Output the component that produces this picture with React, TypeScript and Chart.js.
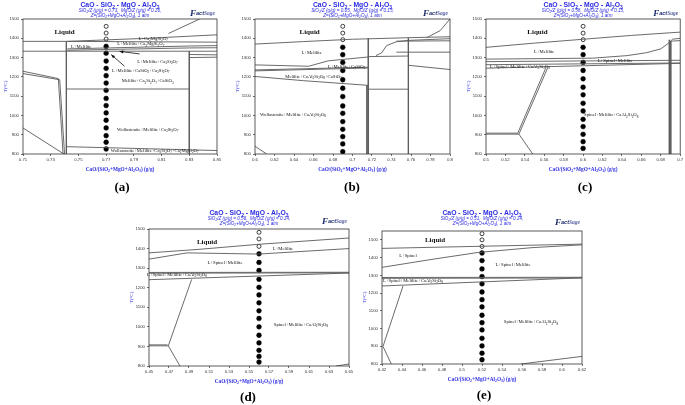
import React, { useEffect, useRef } from "react";
import { Chart, registerables } from "chart.js";

Chart.register(...registerables);

type Pt = [number, number];
type Label = [number, number, string];

const Y_TICKS = [800, 900, 1000, 1100, 1200, 1300, 1400, 1500];

// ---------- (a) ----------
const A_X_TICKS = [0.71, 0.73, 0.75, 0.77, 0.79, 0.81, 0.83, 0.85];
const A_X_LABELS = ["0.71", "0.73", "0.75", "0.77", "0.79", "0.81", "0.83", "0.85"];
const A_DOT_X = 0.77;
const A_OPEN_T = [1462, 1427, 1396];
const A_FILLED_T = [1358, 1323, 1282, 1244, 1206, 1168, 1130, 1088, 1051, 1013, 975, 935, 895, 861, 826];
const A_LINES: Pt[][] = [
  [[0.71, 1384], [0.742, 1384], [0.85, 1380]],
  [[0.742, 1384], [0.8, 1400], [0.85, 1418]],
  [[0.815, 1425], [0.8375, 1500]],
  [[0.71, 1333], [0.85, 1333]],
  [[0.742, 1345], [0.83, 1360], [0.85, 1362]],
  [[0.742, 1338], [0.83, 1350], [0.85, 1351]],
  [[0.83, 1316], [0.85, 1314]],
  [[0.83, 1300], [0.85, 1302]],
  [[0.7413, 1384], [0.7413, 800]],
  [[0.83, 1333], [0.83, 800]],
  [[0.7413, 1137], [0.83, 1137]],
  [[0.7413, 838], [0.85, 818]],
  [[0.71, 1229], [0.7355, 1191], [0.7389, 800]],
  [[0.71, 1217], [0.7365, 1185], [0.74, 800]],
  [[0.71, 935], [0.7395, 800]],
];
const A_LABELS: Label[] = [
  [0.74, 1436, "Liquid"],
  [0.752, 1358, "L+Melilite"],
  [0.804, 1398, "L+Ca_2MgSi_2O_7"],
  [0.795, 1372, "L+Melilite+Ca_2MgSi_2O_7"],
  [0.807, 1280, "L+Melilite+Ca_3Si_2O_7"],
  [0.795, 1234, "L+Melilite+CaSiO_3+Ca_3Si_2O_7"],
  [0.8, 1180, "Melilite+Ca_3Si_2O_7+CaSiO_3"],
  [0.8, 930, "Wollastonite+Melilite+Ca_3Si_2O_7"],
  [0.805, 819, "Wollastonite+Melilite+Ca_3Si_2O_7+Ca_2MgSi_2O_7"],
];
const A_ARROWS: [Pt, Pt][] = [
  [[0.7833, 1255], [0.7737, 1315]],
  [[0.7942, 1319], [0.7797, 1332]],
];

// ---------- (b) ----------
const B_X_TICKS = [0.6, 0.62, 0.64, 0.66, 0.68, 0.7, 0.72, 0.74, 0.76, 0.78, 0.8];
const B_X_LABELS = ["0.6", "0.62", "0.64", "0.66", "0.68", "0.7", "0.72", "0.74", "0.76", "0.78", "0.8"];
const B_DOT_X = 0.69;
const B_OPEN_T = [1462, 1427, 1393];
const B_FILLED_T = [1353, 1315, 1275, 1233, 1185, 1141, 1098, 1049, 1011, 968, 928, 890, 852, 812];
const B_LINES: Pt[][] = [
  [[0.6, 1370], [0.65, 1383], [0.7, 1395], [0.757, 1403], [0.8, 1408]],
  [[0.776, 1403], [0.79, 1440], [0.8, 1500]],
  [[0.757, 1389], [0.8, 1398]],
  [[0.745, 1385], [0.8, 1387]],
  [[0.6, 1262], [0.655, 1255], [0.675, 1283], [0.716, 1303]],
  [[0.6, 1236], [0.716, 1250]],
  [[0.6, 1231], [0.716, 1246]],
  [[0.6, 1202], [0.65, 1180], [0.716, 1156]],
  [[0.7162, 1400], [0.7162, 800]],
  [[0.7148, 1156], [0.7148, 800]],
  [[0.7573, 1403], [0.7573, 800]],
  [[0.7162, 1136], [0.7573, 1136]],
  [[0.7162, 1305], [0.7573, 1308]],
  [[0.724, 1310], [0.73, 1325], [0.735, 1362], [0.745, 1382], [0.757, 1389]],
  [[0.745, 1328], [0.8, 1328]],
  [[0.7573, 1260], [0.8, 1238]],
  [[0.6, 840], [0.612, 800]],
];
const B_LABELS: Label[] = [
  [0.656, 1436, "Liquid"],
  [0.658, 1327, "L+Melilite"],
  [0.694, 1254, "L+Melilite+CaSiO_3"],
  [0.66, 1205, "Melilite+CaAl_2Si_2O_8+CaSiO_3"],
  [0.639, 1006, "Wollastonite+Melilite+CaAl_2Si_2O_8"],
];

// ---------- (c) ----------
const C_X_TICKS = [0.5, 0.52, 0.54, 0.56, 0.58, 0.6, 0.62, 0.64, 0.66, 0.68, 0.7];
const C_X_LABELS = ["0.5", "0.52", "0.54", "0.56", "0.58", "0.6", "0.62", "0.64", "0.66", "0.68", "0.7"];
const C_DOT_X = 0.6;
const C_OPEN_T = [1462, 1427, 1393];
const C_FILLED_T = [1353, 1315, 1275, 1233, 1190, 1146, 1107, 1063, 1023, 980, 942, 902, 864, 829];
const C_LINES: Pt[][] = [
  [[0.5, 1353], [0.55, 1375], [0.6, 1395], [0.65, 1415], [0.7, 1432]],
  [[0.5, 1292], [0.61, 1297], [0.645, 1310], [0.665, 1325], [0.68, 1345], [0.688, 1375], [0.692, 1395], [0.7, 1400]],
  [[0.5, 1279], [0.7, 1286]],
  [[0.5, 1263], [0.7, 1272]],
  [[0.5, 1245], [0.7, 1270]],
  [[0.6888, 1392], [0.6888, 800]],
  [[0.6903, 1385], [0.6903, 800]],
  [[0.6903, 1385], [0.7, 1388]],
  [[0.5634, 1245], [0.5339, 903], [0.5481, 800]],
  [[0.5615, 1245], [0.5325, 906]],
  [[0.5, 903], [0.5339, 903]],
  [[0.5, 908], [0.5325, 908]],
];
const C_LABELS: Label[] = [
  [0.553, 1436, "Liquid"],
  [0.56, 1332, "L+Melilite"],
  [0.633, 1283, "L+Spinel+Melilite"],
  [0.535, 1254, "L+Spinel+Melilite+CaAl_2Si_2O_8"],
  [0.629, 1003, "Spinel+Melilite+CaAl_2Si_2O_8"],
];

// ---------- (d) ----------
const D_X_TICKS = [0.45, 0.47, 0.49, 0.51, 0.53, 0.55, 0.57, 0.59, 0.61, 0.63, 0.65];
const D_X_LABELS = ["0.45", "0.47", "0.49", "0.51", "0.53", "0.55", "0.57", "0.59", "0.61", "0.63", "0.65"];
const D_DOT_X = 0.56;
const D_OPEN_T = [1483, 1449, 1411];
const D_FILLED_T = [1373, 1329, 1288, 1243, 1202, 1163, 1123, 1082, 1043, 1000, 957, 918, 880, 849, 820];
const D_LINES: Pt[][] = [
  [[0.45, 1378], [0.5, 1396], [0.56, 1422], [0.65, 1454]],
  [[0.45, 1346], [0.488, 1378], [0.56, 1372], [0.65, 1400]],
  [[0.45, 1278], [0.65, 1279]],
  [[0.45, 1274], [0.65, 1276]],
  [[0.45, 1241], [0.65, 1275]],
  [[0.4926, 1242], [0.4693, 903], [0.481, 800]],
  [[0.45, 903], [0.4693, 903]],
  [[0.45, 908], [0.4685, 908]],
  [[0.637, 800], [0.65, 810]],
];
const D_LABELS: Label[] = [
  [0.508, 1437, "Liquid"],
  [0.584, 1402, "L+Melilite"],
  [0.526, 1330, "L+Spinel+Melilite"],
  [0.478, 1267, "L+Spinel+Melilite+CaAl_2Si_2O_8"],
  [0.602, 1014, "Spinel+Melilite+CaAl_2Si_2O_8"],
];

// ---------- (e) ----------
const E_X_TICKS = [0.42, 0.44, 0.46, 0.48, 0.5, 0.52, 0.54, 0.56, 0.58, 0.6, 0.62];
const E_X_LABELS = ["0.42", "0.44", "0.46", "0.48", "0.5", "0.52", "0.54", "0.56", "0.58", "0.6", "0.62"];
const E_DOT_X = 0.52;
const E_OPEN_T = [1535, 1500, 1463];
const E_FILLED_T = [1426, 1383, 1336, 1293, 1252, 1206, 1163, 1122, 1075, 1033, 992, 945, 902, 861, 824];
const E_LINES: Pt[][] = [
  [[0.42, 1452], [0.62, 1476]],
  [[0.42, 1345], [0.47, 1390], [0.516, 1429], [0.57, 1456], [0.62, 1472]],
  [[0.42, 1288], [0.62, 1289]],
  [[0.42, 1283], [0.62, 1285]],
  [[0.42, 1240], [0.62, 1286]],
  [[0.441, 1240], [0.421, 899], [0.4293, 800]],
  [[0.559, 800], [0.62, 843]],
];
const E_LABELS: Label[] = [
  [0.473, 1500, "Liquid"],
  [0.446, 1411, "L+Spinel"],
  [0.551, 1364, "L+Spinel+Melilite"],
  [0.451, 1271, "L+Spinel+Melilite+CaAl_2Si_2O_8"],
  [0.569, 1038, "Spinel+Melilite+CaAl_2Si_2O_8"],
];

const SIO2_Z = ["0.73", "0.65", "0.58", "0.56", "0.51"];
const MGO_Z = ["0.16", "0.15", "0.15", "0.14", "0.14"];
const LETTERS = ["(a)", "(b)", "(c)", "(d)", "(e)"];

const BLUE = "#2a2ae0";
const LINE_COLOR = "#5a5a5a";
const SERIF = "'Liberation Serif', 'Times New Roman', serif";
const SANS = "'Liberation Sans', Arial, sans-serif";

interface PanelCfg {
  idx: number;
  area: { L: number; T: number; R: number; B: number };
  xMin: number; xMax: number; yMin: number; yMax: number;
  xTicks: number[]; xLabels: string[];
  dotX: number; openT: number[]; filledT: number[];
  lines: Pt[][]; labels: Label[]; arrows: [Pt, Pt][];
  titleY: number; logoY: number; letterPos: [number, number];
}

const PANELS: PanelCfg[] = [
  { idx: 0, area: { L: 23, T: 19, R: 217, B: 154 }, xMin: 0.71, xMax: 0.85, yMin: 800, yMax: 1500,
    xTicks: A_X_TICKS, xLabels: A_X_LABELS, dotX: A_DOT_X, openT: A_OPEN_T, filledT: A_FILLED_T,
    lines: A_LINES, labels: A_LABELS, arrows: A_ARROWS, titleY: 5, logoY: 13, letterPos: [122, 186] },
  { idx: 1, area: { L: 255, T: 19, R: 450, B: 154 }, xMin: 0.6, xMax: 0.8, yMin: 800, yMax: 1500,
    xTicks: B_X_TICKS, xLabels: B_X_LABELS, dotX: B_DOT_X, openT: B_OPEN_T, filledT: B_FILLED_T,
    lines: B_LINES, labels: B_LABELS, arrows: [], titleY: 5, logoY: 13, letterPos: [352, 186] },
  { idx: 2, area: { L: 486, T: 19, R: 683, B: 154 }, xMin: 0.5, xMax: 0.7, yMin: 800, yMax: 1500,
    xTicks: C_X_TICKS, xLabels: C_X_LABELS, dotX: C_DOT_X, openT: C_OPEN_T, filledT: C_FILLED_T,
    lines: C_LINES, labels: C_LABELS, arrows: [], titleY: 5, logoY: 13, letterPos: [585, 186] },
  { idx: 3, area: { L: 149, T: 229, R: 349, B: 366 }, xMin: 0.45, xMax: 0.65, yMin: 800, yMax: 1500,
    xTicks: D_X_TICKS, xLabels: D_X_LABELS, dotX: D_DOT_X, openT: D_OPEN_T, filledT: D_FILLED_T,
    lines: D_LINES, labels: D_LABELS, arrows: [], titleY: 213, logoY: 221, letterPos: [248, 396] },
  { idx: 4, area: { L: 382, T: 231, R: 582, B: 364 }, xMin: 0.42, xMax: 0.62, yMin: 800, yMax: 1550,
    xTicks: E_X_TICKS, xLabels: E_X_LABELS, dotX: E_DOT_X, openT: E_OPEN_T, filledT: E_FILLED_T,
    lines: E_LINES, labels: E_LABELS, arrows: [], titleY: 213, logoY: 222, letterPos: [484, 394] },
];

function drawRich(
  ctx: CanvasRenderingContext2D, text: string, x: number, y: number, size: number,
  family: string, weight: string, style: string, color: string, align: "left" | "center" | "right" = "center"
) {
  const segs: { t: string; sub: boolean }[] = [];
  let buf = "";
  for (let i = 0; i < text.length; i++) {
    const c = text[i];
    if (c === "_" && i + 1 < text.length) {
      if (buf) segs.push({ t: buf, sub: false });
      buf = "";
      segs.push({ t: text[i + 1], sub: true });
      i++;
    } else buf += c;
  }
  if (buf) segs.push({ t: buf, sub: false });
  const fontFor = (sub: boolean) => `${style} ${weight} ${sub ? size * 0.72 : size}px ${family}`;
  let w = 0;
  for (const s of segs) { ctx.font = fontFor(s.sub); w += ctx.measureText(s.t).width; }
  let cx = align === "center" ? x - w / 2 : align === "right" ? x - w : x;
  ctx.fillStyle = color;
  ctx.textAlign = "left";
  ctx.textBaseline = "alphabetic";
  const base = y + size * 0.35;
  for (const s of segs) {
    ctx.font = fontFor(s.sub);
    ctx.fillText(s.t, cx, s.sub ? base + size * 0.25 : base);
    cx += ctx.measureText(s.t).width;
  }
}

function makePlugin(p: PanelCfg) {
  return {
    id: "decor" + p.idx,
    afterDatasetsDraw(chart: any) {
      const ctx: CanvasRenderingContext2D = chart.ctx;
      const xs = chart.scales.x, ys = chart.scales.y;
      ctx.save();
      for (const [x, t, txt] of p.labels) {
        const px = xs.getPixelForValue(x), py = ys.getPixelForValue(t);
        if (txt === "Liquid") drawRich(ctx, txt, px, py, 7, SERIF, "bold", "normal", "#111");
        else drawRich(ctx, txt, px, py, 4.7, SERIF, "normal", "normal", "#111");
      }
      ctx.strokeStyle = "#111";
      ctx.fillStyle = "#111";
      ctx.lineWidth = 0.8;
      for (const [a, b] of p.arrows) {
        const x0 = xs.getPixelForValue(a[0]), y0 = ys.getPixelForValue(a[1]);
        const x1 = xs.getPixelForValue(b[0]), y1 = ys.getPixelForValue(b[1]);
        ctx.beginPath(); ctx.moveTo(x0, y0); ctx.lineTo(x1, y1); ctx.stroke();
        const ang = Math.atan2(y1 - y0, x1 - x0);
        ctx.beginPath();
        ctx.moveTo(x1, y1);
        ctx.lineTo(x1 - 4 * Math.cos(ang - 0.4), y1 - 4 * Math.sin(ang - 0.4));
        ctx.lineTo(x1 - 4 * Math.cos(ang + 0.4), y1 - 4 * Math.sin(ang + 0.4));
        ctx.closePath(); ctx.fill();
      }
      ctx.restore();
    },
    afterDraw(chart: any) {
      const ctx: CanvasRenderingContext2D = chart.ctx;
      const ca = chart.chartArea;
      ctx.save();
      ctx.strokeStyle = "#333";
      ctx.lineWidth = 0.8;
      ctx.strokeRect(ca.left, ca.top, ca.right - ca.left, ca.bottom - ca.top);
      const cx = (ca.left + ca.right) / 2;
      const cy = (ca.top + ca.bottom) / 2;
      drawRich(ctx, "CaO - SiO_2 - MgO - Al_2O_3", cx, p.titleY, 6.8, SANS, "bold", "normal", BLUE);
      drawRich(ctx, `SiO_2/Z (g/g) = ${SIO2_Z[p.idx]},  MgO/Z (g/g) = ${MGO_Z[p.idx]},`, cx, p.titleY + 5.6, 4.6, SANS, "normal", "italic", BLUE);
      drawRich(ctx, "Z=(SiO_2+MgO+Al_2O_3), 1 atm", cx, p.titleY + 10.6, 4.6, SANS, "normal", "italic", BLUE);
      // x axis title
      drawRich(ctx, "CaO/(SiO_2+MgO+Al_2O_3) (g/g)", cx, ca.bottom + 15, 5.3, SERIF, "bold", "normal", BLUE);
      // y axis title
      ctx.save();
      ctx.translate(ca.left - 18, cy);
      ctx.rotate(-Math.PI / 2);
      drawRich(ctx, "T(°C)", 0, 0, 5, SERIF, "normal", "normal", BLUE);
      ctx.restore();
      // logo
      const lr = ca.right - 1;
      ctx.font = `italic bold 5.5px ${SERIF}`;
      const wSage = ctx.measureText("Sage").width;
      ctx.font = `italic bold 5.5px ${SANS}`;
      const wAct = ctx.measureText("act").width;
      ctx.font = `italic bold 9px ${SERIF}`;
      const wF = ctx.measureText("F").width;
      let lx = lr - wSage - wAct - wF - 1;
      ctx.textBaseline = "alphabetic";
      ctx.textAlign = "left";
      ctx.fillStyle = "#1b2a6b";
      ctx.font = `italic bold 9px ${SERIF}`;
      ctx.fillText("F", lx, p.logoY + 2.5);
      lx += wF;
      ctx.font = `italic bold 5.5px ${SANS}`;
      ctx.fillText("act", lx, p.logoY + 2);
      lx += wAct;
      ctx.fillStyle = "#5560a0";
      ctx.font = `italic bold 5.5px ${SERIF}`;
      ctx.fillText("Sage", lx, p.logoY + 2);
      // panel letter
      drawRich(ctx, LETTERS[p.idx], p.letterPos[0], p.letterPos[1], 13, SERIF, "bold", "normal", "#000");
      ctx.restore();
    },
  };
}

function buildConfig(p: PanelCfg): any {
  const datasets: any[] = p.lines.map((l) => ({
    type: "scatter",
    data: l.map(([x, y]) => ({ x, y })),
    showLine: true,
    borderColor: LINE_COLOR,
    backgroundColor: LINE_COLOR,
    borderWidth: 0.9,
    pointRadius: 0,
    fill: false,
  }));
  datasets.push({
    type: "scatter",
    data: p.openT.map((t) => ({ x: p.dotX, y: t })),
    showLine: false,
    pointRadius: 2.0,
    pointBorderWidth: 0.8,
    pointBackgroundColor: "#fff",
    pointBorderColor: "#111",
    borderColor: "#111",
    backgroundColor: "#fff",
  });
  datasets.push({
    type: "scatter",
    data: p.filledT.map((t) => ({ x: p.dotX, y: t })),
    showLine: false,
    pointRadius: 2.4,
    pointBorderWidth: 0.5,
    pointBackgroundColor: "#000",
    pointBorderColor: "#000",
    borderColor: "#000",
    backgroundColor: "#000",
  });
  const { L, T, R, B } = p.area;
  const YW = 20, XH = 12;
  const tickFont = { family: SANS, size: 4.3 };
  const grid = { display: true, drawOnChartArea: false, drawTicks: true, tickLength: 2, color: "#333", lineWidth: 0.7 };
  return {
    type: "scatter",
    data: { datasets },
    options: {
      responsive: false,
      maintainAspectRatio: false,
      animation: false,
      events: [],
      layout: { padding: { left: L - YW, top: T, right: 685 - R, bottom: 405 - B - XH } },
      plugins: { legend: { display: false }, tooltip: { enabled: false }, title: { display: false } },
      scales: {
        x: {
          type: "linear",
          min: p.xMin,
          max: p.xMax,
          afterBuildTicks: (s: any) => { s.ticks = p.xTicks.map((v) => ({ value: v })); },
          afterFit: (s: any) => { s.height = XH; s.paddingLeft = 0; s.paddingRight = 0; },
          ticks: {
            autoSkip: false, maxRotation: 0, minRotation: 0, padding: 1, color: "#333", font: tickFont,
            callback: (v: any, i: number) => p.xLabels[i] ?? String(v),
          },
          grid,
          border: { display: false },
        },
        y: {
          type: "linear",
          min: p.yMin,
          max: p.yMax,
          afterBuildTicks: (s: any) => { s.ticks = Y_TICKS.map((v) => ({ value: v })); },
          afterFit: (s: any) => { s.width = YW; s.paddingTop = 0; s.paddingBottom = 0; },
          ticks: { autoSkip: false, padding: 2, color: "#333", font: tickFont, callback: (v: any) => String(v) },
          grid,
          border: { display: false },
        },
      },
    },
    plugins: [makePlugin(p)],
  };
}

function Panel({ cfg }: { cfg: PanelCfg }) {
  const ref = useRef<HTMLCanvasElement>(null);
  useEffect(() => {
    const c = ref.current;
    if (!c) return;
    const chart = new Chart(c, buildConfig(cfg));
    return () => chart.destroy();
  }, [cfg]);
  return (
    <canvas
      ref={ref}
      width={685}
      height={405}
      style={{ position: "absolute", left: 0, top: 0, width: 685, height: 405 }}
    />
  );
}

export default function App() {
  return (
    <div style={{ position: "absolute", left: 0, top: 0, width: 685, height: 405, background: "#fff", overflow: "hidden" }}>
      {PANELS.map((p) => (
        <Panel key={p.idx} cfg={p} />
      ))}
    </div>
  );
}
